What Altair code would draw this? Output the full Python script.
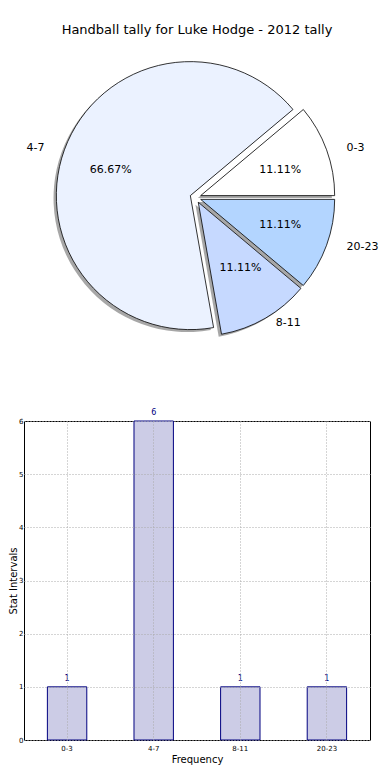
import altair as alt
import pandas as pd

categories = ["0-3", "4-7", "8-11", "20-23"]
counts = [1, 6, 1, 1]
slice_colors = ["#ffffff", "#ebf2ff", "#c6d9ff", "#b3d5ff"]
title_text = "Handball tally for Luke Hodge - 2012 tally"
y_ticks = [0, 1, 2, 3, 4, 5, 6]

df = pd.DataFrame({"cat": categories, "n": counts, "order": list(range(len(categories)))})

FONT = "DejaVu Sans"
VIEW_LEFT = 23.5
PIE_W, PIE_H = 346, 330
CX, CY = 195 - VIEW_LEFT, 148.5
R = 134
RX, RY = 141, 127
E = 5.5
SH_X, SH_Y = -2.8, 2.5

base = (
    alt.Chart(df)
    .transform_window(cum="sum(n)", sort=[alt.SortField("order")], frame=[None, 0])
    .transform_joinaggregate(total="sum(n)")
    .transform_calculate(a0="2*PI*(datum.cum - datum.n)/datum.total")
    .transform_calculate(a1="2*PI*datum.cum/datum.total")
    .transform_calculate(mid="(datum.a0 + datum.a1)/2")
    .transform_calculate(t0="2.5*PI - datum.a1")
    .transform_calculate(t1="2.5*PI - datum.a0")
    .transform_calculate(cx=f"{CX} + {E}*cos(datum.mid)")
    .transform_calculate(cy=f"{CY} - {E}*sin(datum.mid)")
    .transform_calculate(sx=f"datum.cx + ({SH_X})")
    .transform_calculate(sy=f"datum.cy + ({SH_Y})")
    .transform_calculate(lx=f"datum.cx + 1.1*{RX}*cos(datum.mid)")
    .transform_calculate(ly=f"datum.cy - 1.1*{RY}*sin(datum.mid)")
    .transform_calculate(px=f"datum.cx + 0.6*{RX}*cos(datum.mid)")
    .transform_calculate(py=f"datum.cy - 0.6*{RY}*sin(datum.mid)")
    .transform_calculate(pct="format(100*datum.n/datum.total, '.2f') + '%'")
    .transform_calculate(side="cos(datum.mid) >= 0 ? 'L' : 'R'")
)

shadow = base.mark_arc(radius=R, color="#505050", opacity=0.5).encode(
    theta=alt.Theta("t0:Q", scale=None, stack=False),
    theta2="t1:Q",
    x=alt.X("sx:Q", scale=None),
    y=alt.Y("sy:Q", scale=None),
)

slices = base.mark_arc(radius=R, stroke="black", strokeWidth=0.8).encode(
    theta=alt.Theta("t0:Q", scale=None, stack=False),
    theta2="t1:Q",
    x=alt.X("cx:Q", scale=None),
    y=alt.Y("cy:Q", scale=None),
    color=alt.Color("cat:N", scale=alt.Scale(domain=categories, range=slice_colors), legend=None),
)

lab_l = base.transform_filter("datum.side == 'L'").mark_text(
    align="left", baseline="middle", fontSize=11, font=FONT, color="black"
).encode(x=alt.X("lx:Q", scale=None), y=alt.Y("ly:Q", scale=None), text="cat:N")

lab_r = base.transform_filter("datum.side == 'R'").mark_text(
    align="right", baseline="middle", fontSize=11, font=FONT, color="black"
).encode(x=alt.X("lx:Q", scale=None), y=alt.Y("ly:Q", scale=None), text="cat:N")

pcts = base.mark_text(align="center", baseline="middle", fontSize=11, font=FONT, color="black").encode(
    x=alt.X("px:Q", scale=None), y=alt.Y("py:Q", scale=None), text="pct:N"
)

pie = alt.layer(shadow, slices, lab_l, lab_r, pcts).properties(
    width=PIE_W,
    height=PIE_H,
    title=alt.TitleParams(title_text, fontSize=13, font=FONT, fontWeight="normal", color="black", offset=12),
)

bar_base = alt.Chart(df).encode(
    x=alt.X(
        "cat:N",
        sort=categories,
        scale=alt.Scale(paddingInner=0.545, paddingOuter=0.27),
        axis=alt.Axis(
            title="Frequency", labelAngle=0, grid=True, gridDash=[1, 2], gridColor="#aaaaaa",
            bandPosition=0.5, ticks=False, domain=False, labelFontSize=7, labelFont=FONT,
            labelColor="black", titleFont=FONT, titleFontSize=10, titleFontWeight="normal",
            titleColor="black", labelPadding=4, titlePadding=3, zindex=1,
        ),
    ),
    y=alt.Y(
        "n:Q",
        scale=alt.Scale(domain=[0, 6], nice=False),
        axis=alt.Axis(
            title="Stat Intervals", values=y_ticks, grid=True, gridDash=[1, 2], gridColor="#aaaaaa",
            ticks=False, domain=False, labelFontSize=7, labelFont=FONT, labelColor="black",
            titleFont=FONT, titleFontSize=10, titleFontWeight="normal", titleColor="black",
            labelPadding=1, titlePadding=0, zindex=1,
        ),
    ),
)

bars = bar_base.mark_bar(fill="#ccccE6", stroke="#000080", strokeWidth=1)
vals = bar_base.mark_text(dy=-8, fontSize=8, font=FONT, color="#000080").encode(text="n:Q")

bar_chart = alt.layer(bars, vals).properties(
    width=346, height=319, view=alt.ViewBackground(stroke="black", strokeWidth=1)
)

chart = (
    alt.vconcat(pie, bar_chart, spacing=29)
    .properties(padding={"left": 0, "top": 16, "right": 0, "bottom": 0})
    .configure_view(stroke=None)
)

chart.save("out.html", embed_options={"renderer": "svg", "actions": False})
